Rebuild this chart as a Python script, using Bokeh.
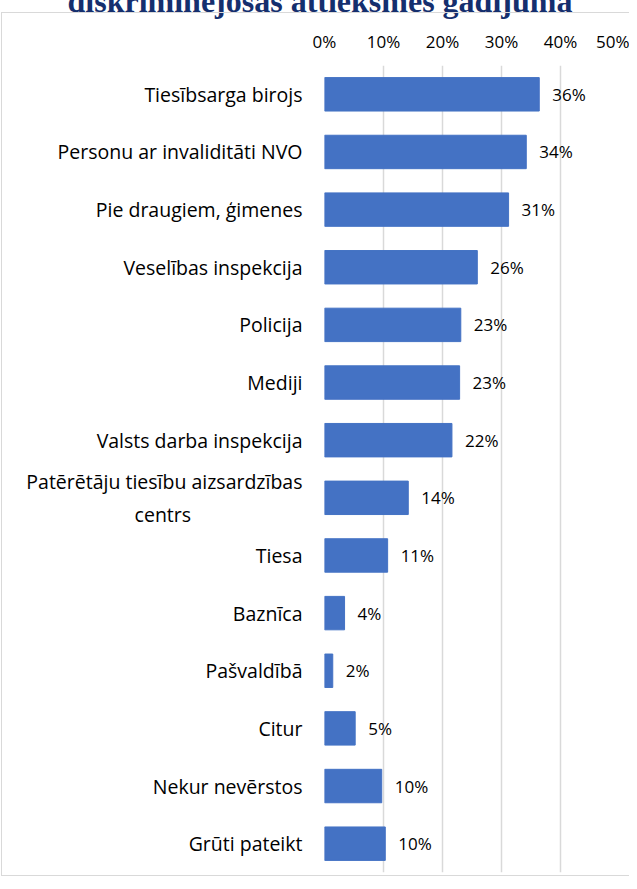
from bokeh.plotting import figure
from bokeh.models import (FactorRange, ColumnDataSource, LabelSet,
                          FixedTicker, NumeralTickFormatter, InlineStyleSheet)
from bokeh.core.properties import value
from bokeh.embed import file_html
from bokeh.resources import INLINE

title_text = "diskriminējošas attieksmes gadījumā"

categories = [
    "Tiesībsarga birojs",
    "Personu ar invaliditāti NVO",
    "Pie draugiem, ģimenes",
    "Veselības inspekcija",
    "Policija",
    "Mediji",
    "Valsts darba inspekcija",
    "Patērētāju tiesību aizsardzības\ncentrs",
    "Tiesa",
    "Baznīca",
    "Pašvaldībā",
    "Citur",
    "Nekur nevērstos",
    "Grūti pateikt",
]
values = [0.364, 0.342, 0.312, 0.259, 0.231, 0.229, 0.216, 0.142, 0.107,
          0.034, 0.014, 0.052, 0.097, 0.103]
value_labels = ["36%", "34%", "31%", "26%", "23%", "23%", "22%", "14%",
                "11%", "4%", "2%", "5%", "10%", "10%"]
x_ticks = [0, 0.1, 0.2, 0.3, 0.4, 0.5]

FONT = "Open Sans"
# the second line of the wrapped label is centred under the first one
pad = "\u00a0" * 22
factors = [c + pad if "\n" in c else c for c in categories]

source = ColumnDataSource(dict(cat=factors, val=values, lab=value_labels))

p = figure(
    width=629, height=905,
    y_range=FactorRange(*reversed(factors)),
    x_range=(0, 0.5),
    x_axis_location="above",
    output_backend="svg",
    toolbar_location=None,
    min_border_left=324, min_border_right=10,
    min_border_top=64, min_border_bottom=5,
)
p.margin = (-28, 0, 0, 0)
p.outline_line_color = None
p.background_fill_color = "white"
p.border_fill_color = "white"

p.hbar(y="cat", right="val", left=0, height=0.58, source=source,
       fill_color="#4472C4", line_color="#4472C4")

labels = LabelSet(x="val", y="cat", text="lab", source=source,
                  x_offset=13, text_baseline="middle", text_align="left",
                  text_font=value(FONT), text_font_size="17px",
                  text_color="#000000")
p.add_layout(labels)

xa = p.xaxis[0]
xa.ticker = FixedTicker(ticks=x_ticks)
xa.formatter = NumeralTickFormatter(format="0%")
xa.axis_line_color = None
xa.major_tick_line_color = None
xa.minor_tick_line_color = None
xa.major_tick_out = 0
xa.major_label_standoff = 13
xa.major_label_text_font = FONT
xa.major_label_text_font_size = "17px"
xa.major_label_text_color = "#000000"

ya = p.yaxis[0]
ya.axis_line_color = None
ya.major_tick_line_color = None
ya.major_tick_out = 0
ya.major_label_standoff = 22
ya.major_label_text_font = FONT
ya.major_label_text_font_size = "19.5px"
ya.major_label_text_color = "#000000"

p.xgrid.grid_line_color = "#D9D9D9"
p.xgrid.grid_line_width = 1.5
p.ygrid.grid_line_color = None

p.title.text = title_text
p.title.align = "left"
p.title.offset = -257
p.title.standoff = 16
p.title.text_font = "Liberation Serif"
p.title.text_font_style = "bold"
p.title.text_font_size = "32px"
p.title.text_color = "#152F6E"

p.stylesheets = [InlineStyleSheet(css="""
:host { overflow: hidden; }
:host::after {
  content: "";
  position: absolute;
  left: 1px; top: 40px;
  width: 700px; height: 864px;
  border-left: 1.5px solid #D9D9D9;
  border-top: 1.5px solid #D9D9D9;
  border-bottom: 1.5px solid #D9D9D9;
  pointer-events: none;
  box-sizing: border-box;
}
""")]

open("out.html", "w").write(file_html(p, INLINE))
